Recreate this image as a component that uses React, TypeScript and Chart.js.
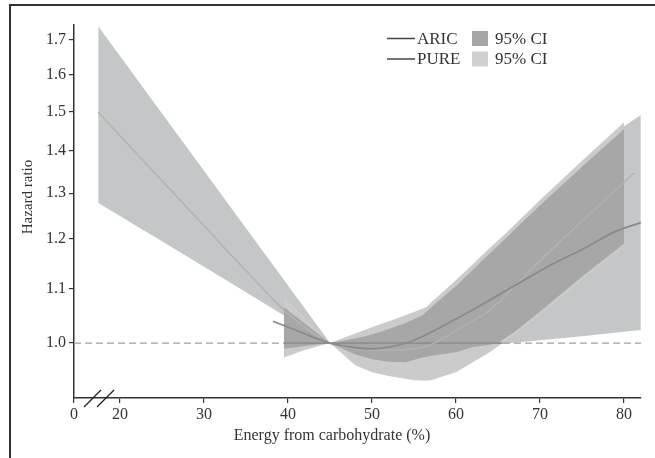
import React, { useEffect, useRef } from 'react';
import { Chart, registerables } from 'chart.js';

Chart.register(...registerables);

const FONT = '"Liberation Serif", "Times New Roman", Times, serif';

// Axis ticks (the "0" tick sits at the broken-axis origin)
const X_MIN = 14.52;
const X_MAX = 82.02;
const Y_MIN = 0.9083;
const Y_MAX = 1.7455;
const xTickValues = [X_MIN, 20, 30, 40, 50, 60, 70, 80];
const xTickLabels = ['0', '20', '30', '40', '50', '60', '70', '80'];
const yTickValues = [1.0, 1.1, 1.2, 1.3, 1.4, 1.5, 1.6, 1.7];

// U-shaped curve (light line)
const aricX = [17.4, 20, 25, 30, 35, 40, 45, 48, 50, 53, 55, 57, 60, 62, 64, 67, 70, 75, 81.2];
const aricHR = [1.498, 1.438, 1.329, 1.228, 1.135, 1.053, 1.0, 0.99, 0.988, 0.988, 0.99, 0.997, 1.022, 1.04, 1.059, 1.105, 1.155, 1.238, 1.347];

// Monotone-ish curve (dark line)
const pureX = [38.2, 41.4, 45, 48.6, 50, 52, 55, 59, 63, 67, 71, 75, 79, 82];
const pureHR = [1.039, 1.02, 1.0, 0.991, 0.99, 0.993, 1.005, 1.035, 1.069, 1.106, 1.144, 1.178, 1.216, 1.235];

// Outer (blue-grey) confidence band
const outerX = [17.4, 20, 22, 25, 30, 35, 40, 45, 50, 55, 60, 65, 70, 75, 80, 82];
const outerUpper = [1.742, 1.653, 1.588, 1.495, 1.352, 1.223, 1.106, 1.0, 1.02, 1.045, 1.11, 1.19, 1.275, 1.365, 1.462, 1.491];
const outerLower = [1.278, 1.249, 1.227, 1.195, 1.143, 1.093, 1.045, 1.0, 0.995, 0.993, 0.995, 0.998, 1.005, 1.012, 1.02, 1.023];

// Middle (light grey) confidence band
const midX = [39.5, 42, 45, 48, 50, 52, 55, 56.5, 57, 60, 62, 64, 66, 70, 75, 80];
const midUpper = [1.085, 1.045, 1.0, 1.017, 1.028, 1.039, 1.056, 1.065, 1.073, 1.117, 1.148, 1.181, 1.213, 1.285, 1.376, 1.472];
const midLower = [0.975, 0.988, 1.0, 0.962, 0.95, 0.944, 0.937, 0.936, 0.937, 0.95, 0.967, 0.984, 1.005, 1.05, 1.118, 1.185];

// Inner (dark grey) confidence band
const innerX = [39.5, 42, 45, 48, 50, 52, 54, 56, 58, 60, 62, 64, 65, 67, 70, 75, 80];
const innerUpper = [1.065, 1.035, 1.0, 1.008, 1.015, 1.025, 1.036, 1.05, 1.078, 1.105, 1.137, 1.17, 1.186, 1.22, 1.273, 1.362, 1.455];
const innerLower = [0.99, 0.995, 1.0, 0.98, 0.972, 0.968, 0.967, 0.975, 0.98, 0.984, 0.993, 0.997, 1.0, 1.02, 1.057, 1.123, 1.19];

// Reference lines
const refDashedX = [X_MIN, X_MAX];
const refSolidX = [39.5, 65.5];
const refHR = 1.0;

const legendItems = [
  { name: 'ARIC', ci: '95% CI', swatch: '#a6a6a6' },
  { name: 'PURE', ci: '95% CI', swatch: '#d0d0d0' },
];

const C_OUTER = '#c4c7c8';
const C_MID = '#cbcbcb';
const C_INNER = '#a7a7a7';

const pts = (xs: number[], ys: number[]) => xs.map((x, i) => ({ x, y: ys[i] }));

const bound = (data: any[], order: number, fill: any, bg: string) => ({
  data,
  order,
  fill,
  backgroundColor: bg,
  borderColor: 'rgba(0,0,0,0)',
  borderWidth: 0,
  pointRadius: 0,
  tension: 0,
});

const decorPlugin = {
  id: 'decor',
  afterDraw(chart: any) {
    const ctx = chart.ctx as CanvasRenderingContext2D;
    const { bottom } = chart.chartArea;
    ctx.save();
    // figure frame
    ctx.strokeStyle = '#333';
    ctx.lineWidth = 2;
    ctx.beginPath();
    ctx.moveTo(10, 470);
    ctx.lineTo(10, 5);
    ctx.lineTo(670, 5);
    ctx.stroke();

    // axis break marks
    ctx.strokeStyle = '#222';
    ctx.lineWidth = 1.3;
    ctx.beginPath();
    ctx.moveTo(84, bottom + 9);
    ctx.lineTo(101, bottom - 8);
    ctx.moveTo(97, bottom + 9);
    ctx.lineTo(114, bottom - 8);
    ctx.stroke();

    // axis titles
    ctx.fillStyle = '#333';
    ctx.font = `16px ${FONT}`;
    ctx.textAlign = 'center';
    ctx.textBaseline = 'middle';
    ctx.fillText('Energy from carbohydrate (%)', 332, 436);
    ctx.save();
    ctx.translate(28, 197);
    ctx.rotate(-Math.PI / 2);
    ctx.font = `15px ${FONT}`;
    ctx.fillText('Hazard ratio', 0, 0);
    ctx.restore();

    // legend
    ctx.font = `17px ${FONT}`;
    ctx.textAlign = 'left';
    ctx.textBaseline = 'middle';
    legendItems.forEach((it, i) => {
      const cy = 38.5 + i * 20.5;
      ctx.strokeStyle = '#444';
      ctx.lineWidth = 1.5;
      ctx.beginPath();
      ctx.moveTo(387, cy);
      ctx.lineTo(415, cy);
      ctx.stroke();
      ctx.fillStyle = '#333';
      ctx.fillText(it.name, 417, cy + 1);
      ctx.fillStyle = it.swatch;
      ctx.fillRect(472, cy - 7.5, 16, 15);
      ctx.fillStyle = '#333';
      ctx.fillText(it.ci, 495, cy + 1);
    });
    ctx.restore();
  },
};

export default function App() {
  const ref = useRef<HTMLCanvasElement | null>(null);

  useEffect(() => {
    if (!ref.current) return;
    const chart = new Chart(ref.current, {
      type: 'line',
      data: {
        datasets: [
          bound(pts(outerX, outerUpper), 10, '+1', C_OUTER) as any,
          bound(pts(outerX, outerLower), 10, false, C_OUTER) as any,
          bound(pts(midX, midUpper), 9, '+1', C_MID) as any,
          bound(pts(midX, midLower), 9, false, C_MID) as any,
          bound(pts(innerX, innerUpper), 8, '+1', C_INNER) as any,
          bound(pts(innerX, innerLower), 8, false, C_INNER) as any,
          {
            data: refDashedX.map((x) => ({ x, y: refHR })),
            order: 7,
            borderColor: '#a0a0a0',
            borderWidth: 1.4,
            borderDash: [7, 4],
            pointRadius: 0,
            fill: false,
          } as any,
          {
            data: refSolidX.map((x) => ({ x, y: refHR })),
            order: 6,
            borderColor: '#8f8f8f',
            borderWidth: 1.6,
            pointRadius: 0,
            fill: false,
          } as any,
          {
            label: 'ARIC',
            data: pts(aricX, aricHR),
            order: 5,
            borderColor: '#b2b2b2',
            borderWidth: 1.5,
            pointRadius: 0,
            fill: false,
            cubicInterpolationMode: 'monotone',
          } as any,
          {
            label: 'PURE',
            data: pts(pureX, pureHR),
            order: 4,
            borderColor: '#8a8a8a',
            borderWidth: 1.8,
            pointRadius: 0,
            fill: false,
            cubicInterpolationMode: 'monotone',
          } as any,
        ],
      },
      options: {
        animation: false,
        responsive: false,
        devicePixelRatio: 1,
        layout: { padding: { top: 25, right: 14, left: 0, bottom: 0 } },
        plugins: { legend: { display: false }, tooltip: { enabled: false } },
        scales: {
          x: {
            type: 'linear',
            min: X_MIN,
            max: X_MAX,
            afterBuildTicks: (s: any) => {
              s.ticks = xTickValues.map((v) => ({ value: v }));
            },
            afterFit: (s: any) => {
              s.height = 60;
            },
            ticks: {
              callback: (_v: any, i: number) => xTickLabels[i],
              font: { family: FONT, size: 16 },
              color: '#333',
              padding: 2,
              maxRotation: 0,
              autoSkip: false,
            },
            grid: { drawOnChartArea: false, drawTicks: true, tickLength: 5, color: '#333', lineWidth: 1.2 },
            border: { display: true, color: '#333', width: 1.5 },
          },
          y: {
            type: 'logarithmic',
            min: Y_MIN,
            max: Y_MAX,
            afterBuildTicks: (s: any) => {
              s.ticks = yTickValues.map((v) => ({ value: v }));
            },
            afterFit: (s: any) => {
              s.width = 74;
            },
            ticks: {
              callback: (v: any) => Number(v).toFixed(1),
              font: { family: FONT, size: 16 },
              color: '#333',
              padding: 3,
              autoSkip: false,
            },
            grid: { drawOnChartArea: false, drawTicks: true, tickLength: 5, color: '#333', lineWidth: 1.2 },
            border: { display: true, color: '#333', width: 1.5 },
          },
        },
      } as any,
      plugins: [decorPlugin],
    });
    return () => chart.destroy();
  }, []);

  return (
    <div style={{ position: 'fixed', left: 0, top: 0, width: 655, height: 458, background: '#fff' }}>
      <canvas ref={ref} width={655} height={458} />
    </div>
  );
}
